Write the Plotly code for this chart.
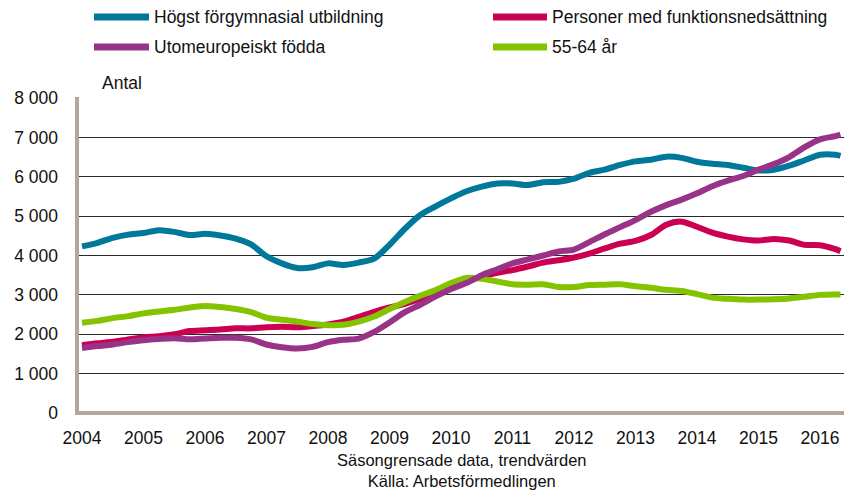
import plotly.graph_objects as go

# Quarterly time points (decimal years), last point ~May 2016
years = [2004 + 0.25 * i for i in range(50)] + [2016.333]
tick_years = list(range(2004, 2017))

hogst_forgymnasial = [4230, 4320, 4450, 4530, 4570, 4640, 4600, 4520, 4550, 4510,
                      4430, 4280, 3980, 3800, 3680, 3700, 3800, 3760, 3820, 3920,
                      4270, 4680, 5030, 5250, 5450, 5630, 5750, 5830, 5830, 5790,
                      5860, 5870, 5950, 6100, 6180, 6300, 6390, 6430, 6510, 6480,
                      6380, 6330, 6300, 6230, 6160, 6180, 6280, 6420, 6560, 6560, 6530]
funktionsnedsattning = [1720, 1770, 1810, 1870, 1920, 1950, 2000, 2080, 2100, 2120,
                        2150, 2150, 2180, 2190, 2180, 2210, 2250, 2320, 2440, 2570,
                        2680, 2770, 2900, 3060, 3260, 3350, 3460, 3560, 3630, 3720,
                        3820, 3880, 3950, 4050, 4180, 4300, 4370, 4520, 4780, 4860,
                        4730, 4580, 4480, 4410, 4380, 4420, 4380, 4270, 4260, 4160, 4110]
utomeuropeiskt = [1650, 1700, 1740, 1800, 1850, 1880, 1900, 1870, 1890, 1910,
                  1910, 1870, 1740, 1670, 1640, 1680, 1800, 1860, 1890, 2060,
                  2300, 2560, 2750, 2960, 3150, 3300, 3500, 3650, 3800, 3900,
                  4000, 4100, 4150, 4340, 4540, 4720, 4900, 5110, 5280, 5420,
                  5580, 5760, 5900, 6020, 6180, 6320, 6500, 6750, 6950, 7030, 7070]
aldre_55_64 = [2290, 2340, 2410, 2460, 2530, 2580, 2620, 2680, 2720, 2690,
               2640, 2560, 2420, 2370, 2320, 2260, 2230, 2240, 2320, 2450,
               2640, 2820, 2980, 3120, 3300, 3430, 3410, 3340, 3270, 3260,
               3270, 3200, 3200, 3250, 3260, 3270, 3220, 3180, 3130, 3100,
               3020, 2930, 2900, 2880, 2880, 2890, 2910, 2950, 3000, 3010, 3010]

names = ["Högst förgymnasial utbildning", "Personer med funktionsnedsättning",
         "Utomeuropeiskt födda", "55-64 år"]
colors = ["#00789A", "#CC0052", "#993388", "#84C300"]
series = [hogst_forgymnasial, funktionsnedsattning, utomeuropeiskt, aldre_55_64]
draw_order = [0, 1, 3, 2]

W, H = 846, 492
ML, MR, MT, MB = 78, 2, 98, 79
PW, PH = W - ML - MR, H - MT - MB
FONT = "Liberation Sans, Arial, sans-serif"
FS = 17.5
TXT = "#111111"

fig = go.Figure()
for i in draw_order:
    fig.add_trace(go.Scatter(x=years, y=series[i], name=names[i], mode="lines",
                             line=dict(color=colors[i], width=6, shape="spline", smoothing=0.8),
                             showlegend=False, hoverinfo="skip"))

def px(xp):
    return (xp - ML) / PW

def py(yp):
    return (H - MB - yp) / PH

shapes = []
annotations = []
# Manual legend
legend_pos = [(94, 149, 17), (493, 547, 17), (94, 149, 47), (493, 547, 47)]
for (x0, x1, yc), name, col in zip(legend_pos, names, colors):
    shapes.append(dict(type="line", xref="paper", yref="paper", x0=px(x0), x1=px(x1),
                       y0=py(yc), y1=py(yc), line=dict(color=col, width=7)))
    annotations.append(dict(text=name, xref="paper", yref="paper", x=px(x1 + 3), y=py(yc),
                            xanchor="left", yanchor="middle", showarrow=False,
                            font=dict(size=FS, color=TXT, family=FONT)))

# Axis lines (tan)
shapes.append(dict(type="line", xref="paper", yref="paper", x0=px(77), x1=px(77),
                   y0=py(415), y1=py(97), line=dict(color="#B3A898", width=4)))
shapes.append(dict(type="line", xref="paper", yref="paper", x0=px(75), x1=1.0,
                   y0=py(413), y1=py(413), line=dict(color="#B3A898", width=4)))

annotations.append(dict(text="Antal", xref="paper", yref="paper", x=px(100), y=py(83),
                        xanchor="left", yanchor="middle", showarrow=False,
                        font=dict(size=FS, color=TXT, family=FONT)))
annotations.append(dict(text="Säsongrensade data, trendvärden<br>Källa: Arbetsförmedlingen",
                        xref="paper", yref="paper", align="center",
                        x=px(462), y=py(470), xanchor="center", yanchor="middle", showarrow=False,
                        borderpad=0, font=dict(size=16.5, color=TXT, family=FONT)))

fig.update_layout(
    width=W, height=H,
    margin=dict(l=ML, r=MR, t=MT, b=MB, pad=0),
    paper_bgcolor="white", plot_bgcolor="white",
    separators=", ",
    font=dict(family=FONT, size=FS, color=TXT),
    shapes=shapes, annotations=annotations,
    showlegend=False,
    hovermode=False,
)
fig.update_xaxes(range=[2003.935, 2016.39], tickvals=tick_years,
                 ticktext=[str(y) for y in tick_years],
                 showgrid=False, zeroline=False, showline=False, ticks="",
                 ticklabelstandoff=12, tickfont=dict(size=FS, family=FONT, color=TXT))
fig.update_yaxes(range=[0, 8000], tickvals=list(range(0, 8001, 1000)), tickformat=",d",
                 showgrid=True, gridcolor="#2a2a2a", gridwidth=1,
                 zeroline=False, showline=False, ticks="",
                 ticklabelstandoff=19, tickfont=dict(size=FS, family=FONT, color=TXT))

fig.write_html("out.html", config={"displayModeBar": False},
               post_script="document.body.style.margin='0px';document.body.style.overflow='hidden';")
